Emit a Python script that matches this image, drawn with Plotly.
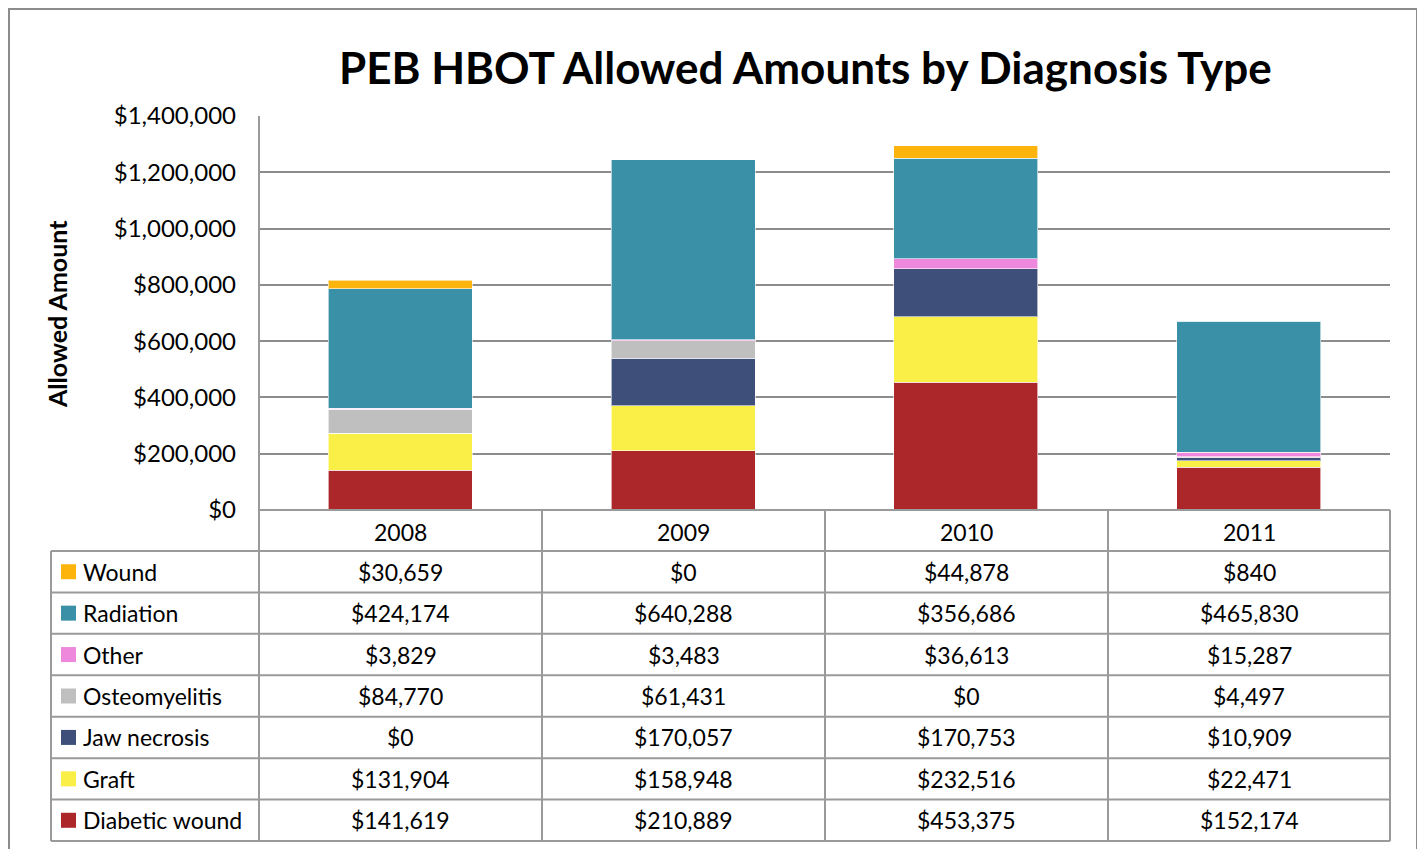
import plotly.graph_objects as go

years = ["2008", "2009", "2010", "2011"]
# stack order bottom -> top
series_names = ["Diabetic wound", "Graft", "Jaw necrosis", "Osteomyelitis", "Other", "Radiation", "Wound"]
diabetic_wound = [141619, 210889, 453375, 152174]
graft = [131904, 158948, 232516, 22471]
jaw_necrosis = [0, 170057, 170753, 10909]
osteomyelitis = [84770, 61431, 0, 4497]
other = [3829, 3483, 36613, 15287]
radiation = [424174, 640288, 356686, 465830]
wound = [30659, 0, 44878, 840]
series_values = [diabetic_wound, graft, jaw_necrosis, osteomyelitis, other, radiation, wound]
colors = ["#AC2729", "#F9EF47", "#3E5079", "#BFBFBF", "#EE88DD", "#3A91A7", "#FDB50D"]

W, H = 1425, 849
OFF = 8  # page body margin offset
FONT = "Lato, Open Sans, sans-serif"

def px(x):
    return (x - OFF) / W

def py(y):
    return 1 - (y - OFF) / H

fig = go.Figure()
for name, vals, c in zip(series_names, series_values, colors):
    fig.add_trace(go.Bar(
        x=years, y=vals, name=name, marker=dict(color=c, line=dict(color="rgba(255,255,255,0.6)", width=1)),
        width=0.51, hoverinfo="skip", showlegend=False))

plot_l, plot_r, plot_t, plot_b = 259, 1390, 116, 510
fig.update_layout(
    width=W, height=H, margin=dict(l=0, r=0, t=0, b=0, pad=0, autoexpand=False),
    paper_bgcolor="white", plot_bgcolor="white",
    barmode="stack",
    font=dict(family=FONT, color="black"),
    xaxis=dict(domain=[px(plot_l), px(plot_r)], showticklabels=False, showgrid=False,
               zeroline=False, showline=False, ticks="", automargin=False),
    yaxis=dict(domain=[py(plot_b), py(plot_t)], range=[0, 1400000], dtick=200000,
               tickprefix="$", tickformat=",", showgrid=True, gridcolor="#8C8C8C", gridwidth=2,
               zeroline=False, showline=False, tickfont=dict(size=24, family=FONT, color="black"),
               ticklabelstandoff=22, automargin=False),
)

shapes = []
annotations = []
line = dict(color="#9A9A9A", width=2)

# outer border
shapes.append(dict(type="rect", xref="paper", yref="paper", x0=px(9), x1=px(1417), y0=py(870), y1=py(9),
                   line=dict(color="#8C8C8C", width=2), fillcolor="rgba(0,0,0,0)", layer="below"))

# title
annotations.append(dict(text="<b>PEB HBOT Allowed Amounts by Diagnosis Type</b>", x=px(805), y=py(67),
                        xref="paper", yref="paper", showarrow=False, xanchor="center", yanchor="middle",
                        font=dict(size=44, family=FONT, color="black")))
# y axis title
annotations.append(dict(text="<b>Allowed Amount</b>", x=px(57), y=py(314), xref="paper", yref="paper",
                        showarrow=False, textangle=-90, xanchor="center", yanchor="middle",
                        font=dict(size=25, family=FONT, color="black")))

# table geometry
col_x = [259, 542, 825, 1108, 1390]
tab_left = 51
header_top, header_bot = 510, 551
row_h = (841 - 551) / 7
row_y = [551 + i * row_h for i in range(8)]

# left axis line through plot + table
shapes.append(dict(type="line", xref="paper", yref="paper", x0=px(259), x1=px(259), y0=py(plot_t), y1=py(841), line=line))
for cx in col_x[1:]:
    shapes.append(dict(type="line", xref="paper", yref="paper", x0=px(cx), x1=px(cx), y0=py(header_top), y1=py(841), line=line))
shapes.append(dict(type="line", xref="paper", yref="paper", x0=px(tab_left), x1=px(tab_left), y0=py(551), y1=py(841), line=line))
shapes.append(dict(type="line", xref="paper", yref="paper", x0=px(259), x1=px(1390), y0=py(510), y1=py(510), line=line))
for ry in row_y:
    shapes.append(dict(type="line", xref="paper", yref="paper", x0=px(tab_left), x1=px(1390), y0=py(ry), y1=py(ry), line=line))

CELL_FONT = dict(size=23, family=FONT, color="black")
for i, yr in enumerate(years):
    cx = (col_x[i] + col_x[i + 1]) / 2
    annotations.append(dict(text=yr, x=px(cx), y=py((header_top + header_bot) / 2 + 1), xref="paper", yref="paper",
                            showarrow=False, xanchor="center", yanchor="middle", font=CELL_FONT))

for r, idx in enumerate(reversed(range(len(series_names)))):
    cy = (row_y[r] + row_y[r + 1]) / 2
    shapes.append(dict(type="rect", xref="paper", yref="paper", x0=px(61), x1=px(76), y0=py(cy + 7.5), y1=py(cy - 7.5),
                       fillcolor=colors[idx], line=dict(width=0)))
    annotations.append(dict(text=series_names[idx], x=px(81), y=py(cy), xref="paper", yref="paper",
                            showarrow=False, xanchor="left", yanchor="middle", font=CELL_FONT))
    for i, v in enumerate(series_values[idx]):
        cx = (col_x[i] + col_x[i + 1]) / 2
        annotations.append(dict(text=f"${v:,}", x=px(cx), y=py(cy), xref="paper", yref="paper",
                                showarrow=False, xanchor="center", yanchor="middle", font=CELL_FONT))

fig.update_layout(shapes=shapes, annotations=annotations)
fig.write_html("out.html")
